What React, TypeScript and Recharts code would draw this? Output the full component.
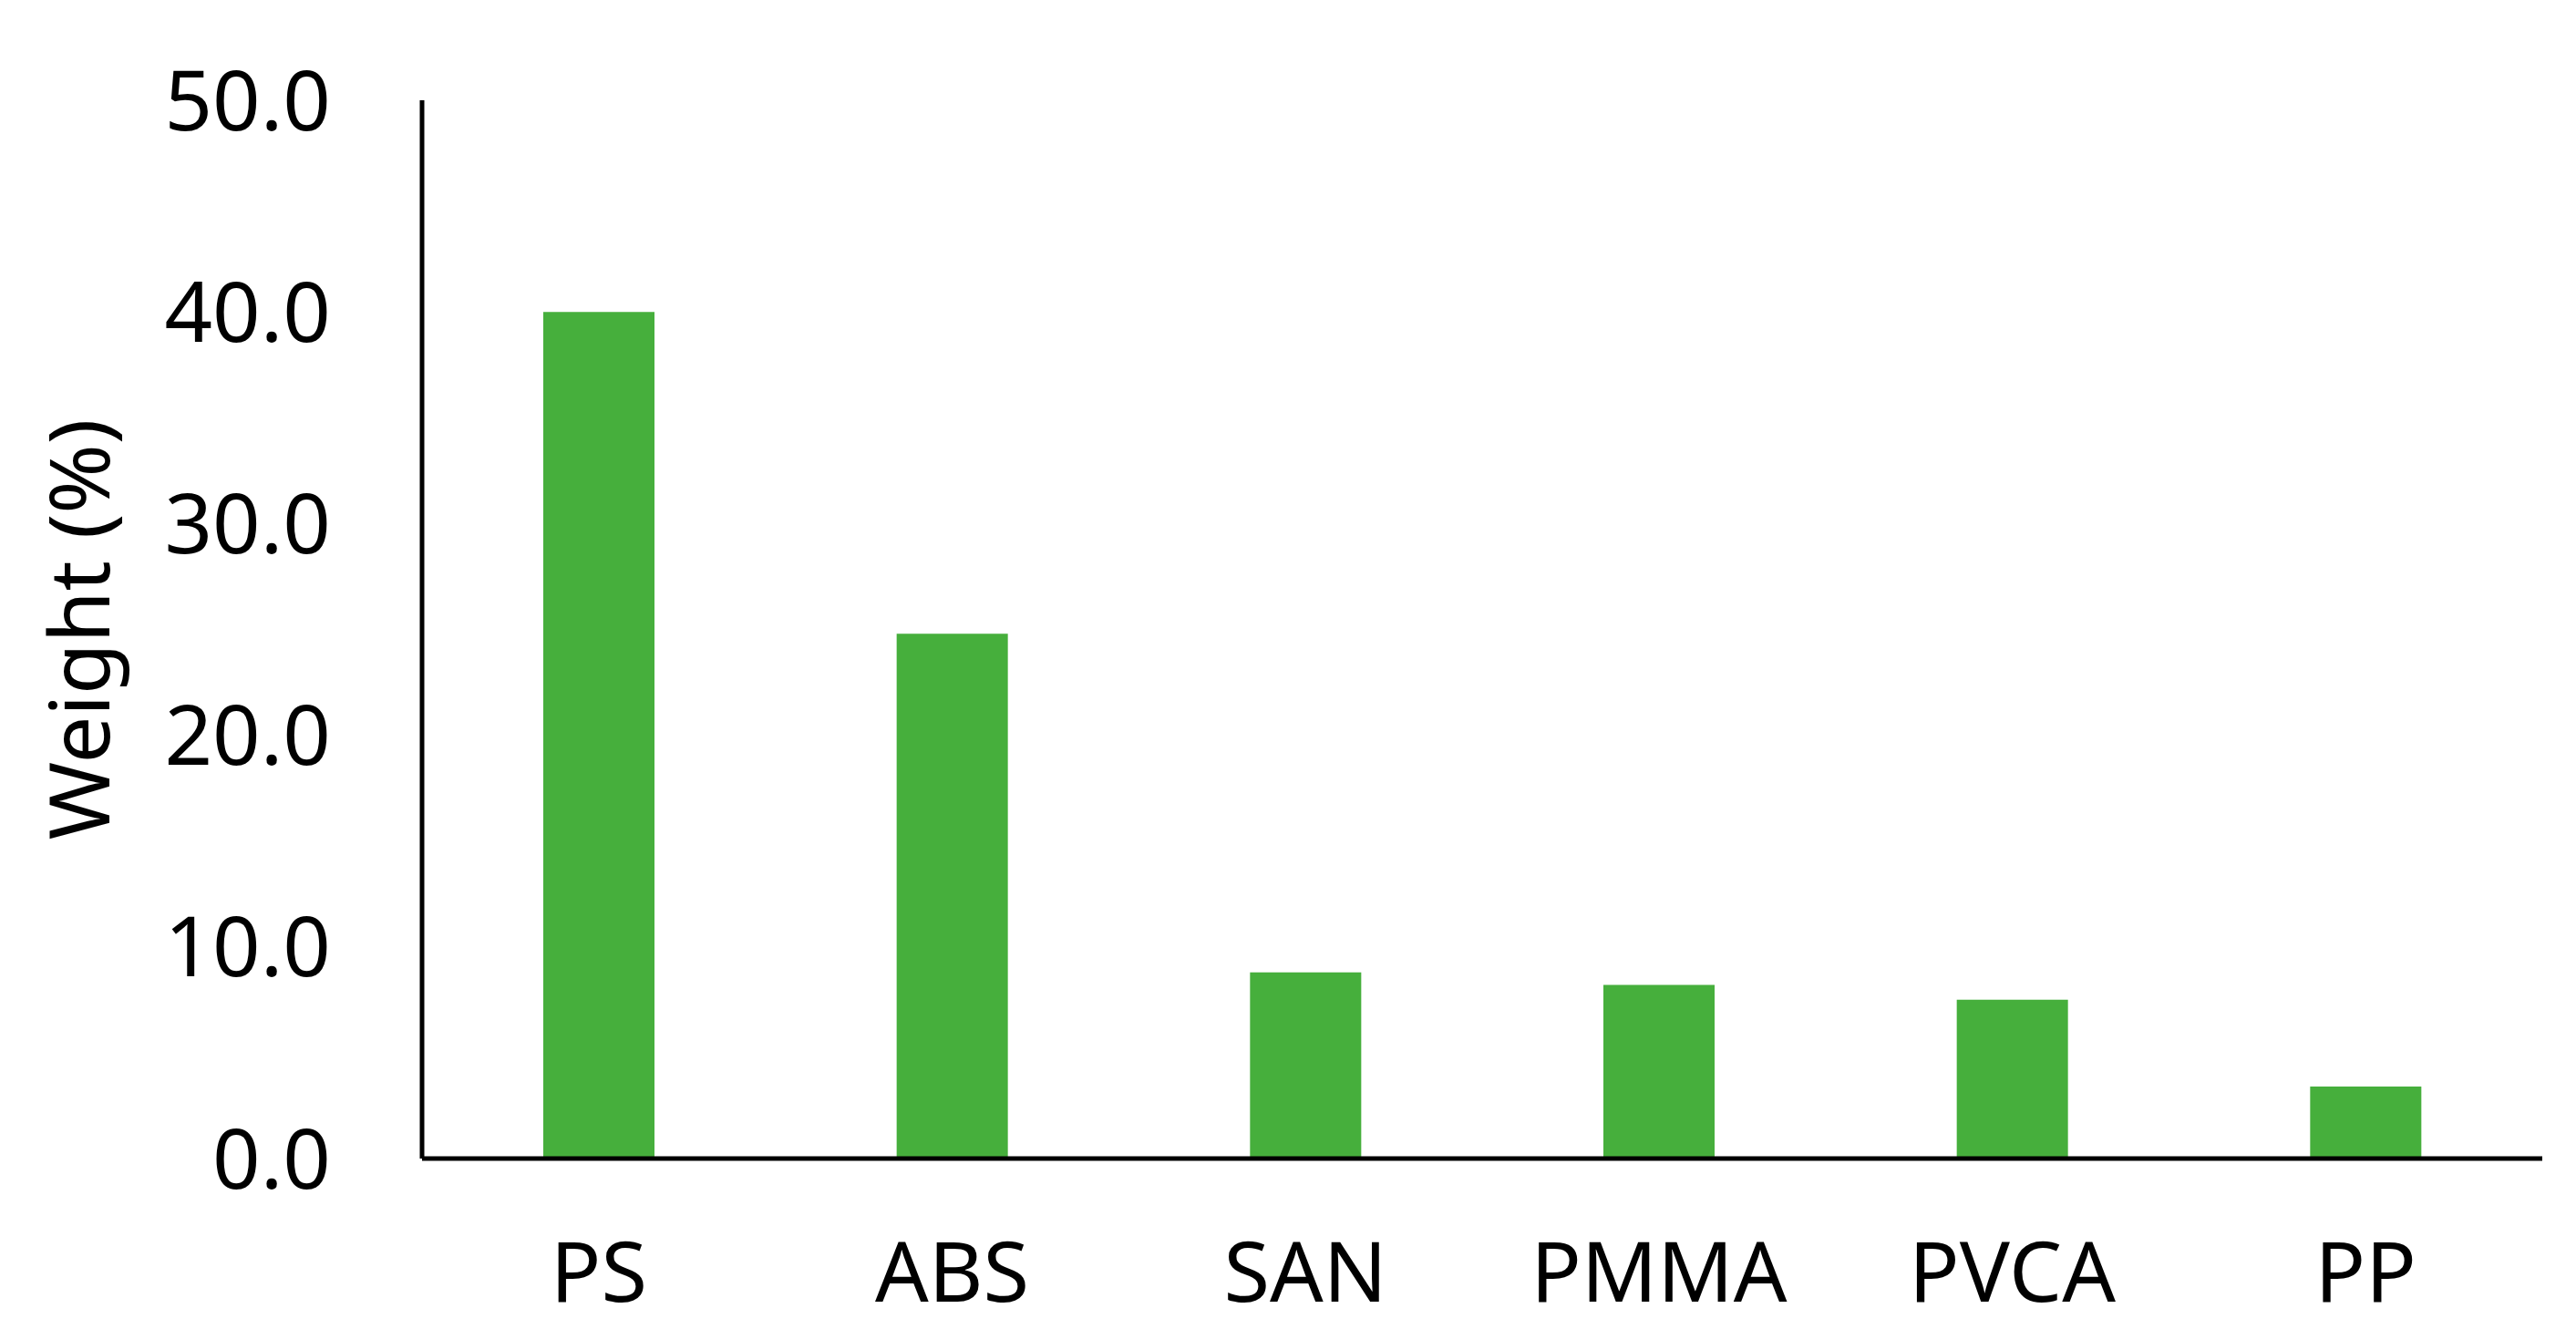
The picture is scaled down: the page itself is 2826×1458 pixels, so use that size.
import { Bar, BarChart, XAxis, YAxis } from "recharts"

const polymers = ["PS", "ABS", "SAN", "PMMA", "PVCA", "PP"]
const weights = [40.0, 24.8, 8.8, 8.2, 7.5, 3.4]
const yTicks = [0, 10, 20, 30, 40, 50]

const data = polymers.map((name, i) => ({ name, weight: weights[i] }))

const font = "'Noto Sans', sans-serif"

export default function App() {
    return (
        <BarChart
            width={2810}
            height={1450}
            data={data}
            margin={{ top: 102, right: 29, left: 0, bottom: 37 }}
        >
            <XAxis
                dataKey="name"
                stroke="#000"
                strokeWidth={5}
                tickLine={false}
                tickSize={0}
                tickMargin={92}
                height={150}
                tick={{ fill: "#000", fontSize: 92, fontFamily: font }}
            />
            <YAxis
                domain={[0, 50]}
                ticks={yTicks}
                width={455}
                stroke="#000"
                strokeWidth={5}
                tickLine={false}
                tickSize={0}
                tickMargin={100}
                tickFormatter={(v) => v.toFixed(1)}
                tick={{ fill: "#000", fontSize: 92, fontFamily: font }}
                label={{
                    value: "Weight (%)",
                    angle: -90,
                    position: "insideLeft",
                    offset: 79,
                    style: { textAnchor: "middle", fill: "#000", fontSize: 92, fontFamily: font },
                }}
            />
            <Bar dataKey="weight" fill="#46AF3C" barSize={122} isAnimationActive={false} />
        </BarChart>
    )
}
